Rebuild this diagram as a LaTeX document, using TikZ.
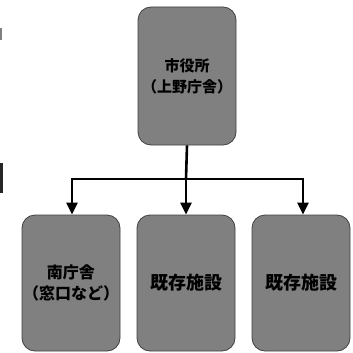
\documentclass[tikz,border=0pt]{standalone}
\usepackage{fontspec}
\newfontfamily\jp{Noto Sans CJK JP}
\usetikzlibrary{arrows.meta}
\tikzset{
  box/.style={draw=black!75, line width=0.8pt, fill=black!50, rounded corners=13pt,
    minimum width=98pt, minimum height=136pt, inner sep=0pt, align=center},
  t15/.style={font=\jp\bfseries\fontsize{15}{21}\selectfont},
  t16/.style={font=\jp\bfseries\fontsize{16}{21}\selectfont},
  t18/.style={font=\jp\bfseries\fontsize{18}{22}\selectfont},
  link/.style={line width=2.6pt, black},
  arr/.style={link, -{Triangle[length=12pt,width=11pt]}},
}
\begin{document}
\begin{tikzpicture}[x=1pt,y=-1pt]
\useasboundingbox (0,0) rectangle (353,353);
\node[box, t15, minimum height=138pt] (top) at (187,76) {市役所\\（上野庁舎）};
\node[box, t16] (left) at (71,283) {南庁舎\\（窓口など）};
\node[box, t18] (mid) at (186,283) {既存施設};
\node[box, t18] (right) at (301,283) {既存施設};
\coordinate (j) at (186,179);
\draw[link] (top.south) -- (j);
\draw[arr] (j) -- (mid.north);
\draw[arr] (j) -| ([xshift=1pt]left.north);
\draw[arr] (j) -| ([xshift=2pt]right.north);
\fill[black!85] (0,163) rectangle (3,193);
\fill[black!50] (0,28) rectangle (1.5,40);
\end{tikzpicture}
\end{document}
